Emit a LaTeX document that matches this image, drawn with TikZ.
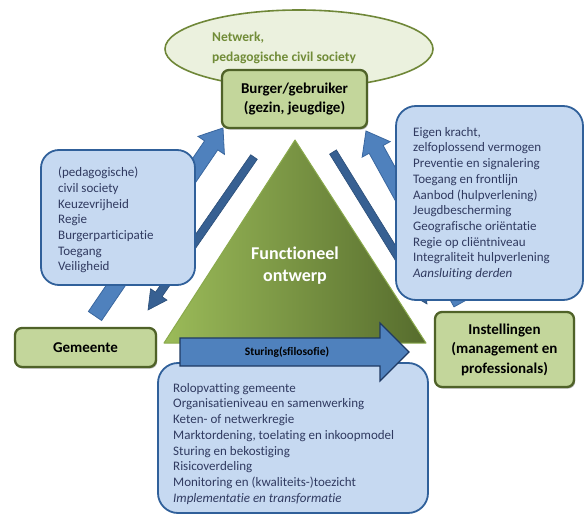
\documentclass[tikz,border=0pt]{standalone}
\usepackage{fontspec}
\setmainfont{Carlito}[Ligatures=NoCommon]
\usetikzlibrary{calc,shapes.geometric,shadows}

\definecolor{boxgreen}{HTML}{C3D69B}
\definecolor{boxolive}{HTML}{4F6228}
\definecolor{netfill}{HTML}{EBF1DE}
\definecolor{netedge}{HTML}{6F8738}
\definecolor{netink}{HTML}{718C38}
\definecolor{bluefill}{HTML}{C6D9F1}
\definecolor{blueedge}{HTML}{30609A}
\definecolor{listink}{HTML}{303A60}
\definecolor{arrowblue}{HTML}{4F81BD}
\definecolor{arrowedge}{HTML}{3A679F}
\definecolor{arrowdark}{HTML}{376092}
\definecolor{arrowdarkedge}{HTML}{2B4E78}
\definecolor{sturedge}{HTML}{1F3A63}
\definecolor{trileft}{HTML}{9BBB59}
\definecolor{triright}{HTML}{566C2D}
\definecolor{triedge}{HTML}{8AAA4C}

% block arrow: style, tail, tip, half shaft width, half head width, head length
\newcommand{\bluearrow}[6]{%
  \coordinate (ba-h) at ($(#3)!#6!(#2)$);
  \path[#1] ($(#2)!#4!90:(#3)$) -- ($(ba-h)!#4!90:(#3)$) -- ($(ba-h)!#5!90:(#3)$)
    -- (#3) -- ($(ba-h)!#5!-90:(#3)$) -- ($(ba-h)!#4!-90:(#3)$)
    -- ($(#2)!#4!-90:(#3)$) -- cycle;
}

\begin{document}
\begin{tikzpicture}[x=1pt,y=-1pt,
  greenbox/.style={draw=boxolive, line width=2.3pt, fill=boxgreen, rounded corners=7pt,
    inner sep=0pt, align=center, font=\bfseries\fontsize{15}{19.5}\selectfont,
    drop shadow={shadow xshift=1.2pt, shadow yshift=-1.6pt, opacity=0.3, fill=black}},
  bluebox/.style={draw=blueedge, line width=1.8pt, fill=bluefill, rounded corners=18pt, inner sep=0pt},
  listtext/.style={anchor=north west, inner sep=0pt, align=left, text=listink,
    font=\fontsize{13}{15.7}\selectfont},
  fatarrow/.style={fill=arrowblue, draw=arrowedge, line width=0.8pt, line join=miter},
  slimarrow/.style={fill=arrowdark, draw=arrowdarkedge, line width=0.6pt, line join=miter},
  sturarrow/.style={fill=arrowblue, draw=sturedge, line width=1.2pt, line join=miter}]
\useasboundingbox (0,0) rectangle (584,516);

% network cloud behind the citizen
\node[ellipse, draw=netedge, line width=1.6pt, fill=netfill, minimum width=268pt,
  minimum height=78pt, inner sep=0pt] (net) at (299,49) {};
\node[anchor=west, inner sep=0pt, align=left, text=netink,
  font=\bfseries\fontsize{13.5}{20}\selectfont] (nettext) at (212,48)
  {Netwerk,\\pedagogische civil society};

% arrow end points
\coordinate (gemTail) at (95,316);
\coordinate (gemTip) at (223,128);
\coordinate (burLeftStart) at (254,157);
\coordinate (burLeftTip) at (148,310);
\coordinate (instTail) at (461,303);
\coordinate (instTip) at (366,131);
\coordinate (burRightStart) at (333,152);
\coordinate (burRightTip) at (427,304);

\bluearrow{fatarrow}{gemTail}{gemTip}{8pt}{16pt}{21pt}
\bluearrow{slimarrow}{burLeftStart}{burLeftTip}{4pt}{10pt}{19pt}
\bluearrow{fatarrow}{instTail}{instTip}{8pt}{16pt}{21pt}
\bluearrow{slimarrow}{burRightStart}{burRightTip}{4pt}{10pt}{19pt}

% citizen
\node[greenbox, minimum width=145pt, minimum height=58pt] (burger) at (294.5,99)
  {Burger/gebruiker\\(gezin, jeugdige)};

% theme boxes
\node[bluebox, minimum width=154pt, minimum height=135pt] (civil) at (118,217.5) {};
\node[listtext] (civiltext) at (58,167)
  {(pedagogische)\\civil society\\Keuzevrijheid\\Regie\\Burgerparticipatie\\Toegang\\Veiligheid};

\node[bluebox, rounded corners=20pt, minimum width=187pt, minimum height=194pt] (care) at (489.5,203) {};
\node[listtext] (caretext) at (413,127)
  {Eigen kracht,\\zelfoplossend vermogen\\Preventie en signalering\\Toegang en frontlijn\\
   Aanbod (hulpverlening)\\Jeugdbescherming\\Geografische oriëntatie\\Regie op cliëntniveau\\
   Integraliteit hulpverlening\\\textit{Aansluiting derden}};

% actors
\node[greenbox, minimum width=141pt, minimum height=39pt] (gem) at (85.5,347.5) {Gemeente};
\node[greenbox, minimum width=139pt, minimum height=75pt] (inst) at (504.5,349.5)
  {Instellingen\\(management en\\professionals)};

% central triangle
\coordinate (apex) at (295,140);
\coordinate (baseL) at (164,343);
\coordinate (baseR) at (426,343);
\shade[left color=trileft, right color=triright] (apex) -- (baseL) -- (baseR) -- cycle;
\draw[draw=triedge, line width=1pt, line join=round] (apex) -- (baseL) -- (baseR) -- cycle;
\node[align=center, text=white, font=\bfseries\fontsize{18}{22}\selectfont] (func) at (295,266)
  {Functioneel\\ontwerp};

% steering box
\node[bluebox, rounded corners=20pt, minimum width=270pt, minimum height=150pt] (steer) at (293,438) {};
\node[listtext] (steertext) at (173,383)
  {Rolopvatting gemeente\\Organisatieniveau en samenwerking\\Keten- of netwerkregie\\
   Marktordening, toelating en inkoopmodel\\Sturing en bekostiging\\Risicoverdeling\\
   Monitoring en (kwaliteits-)toezicht\\\textit{Implementatie en transformatie}};

% steering arrow
\path[sturarrow] (180,338) -- (380,338) -- (380,323) -- (409,352) -- (380,381) -- (380,366)
  -- (180,366) -- cycle;
\node[font=\bfseries\fontsize{11.5}{13}\selectfont] (sturing) at (287,352) {Sturing(sfilosofie)};
\end{tikzpicture}
\end{document}
